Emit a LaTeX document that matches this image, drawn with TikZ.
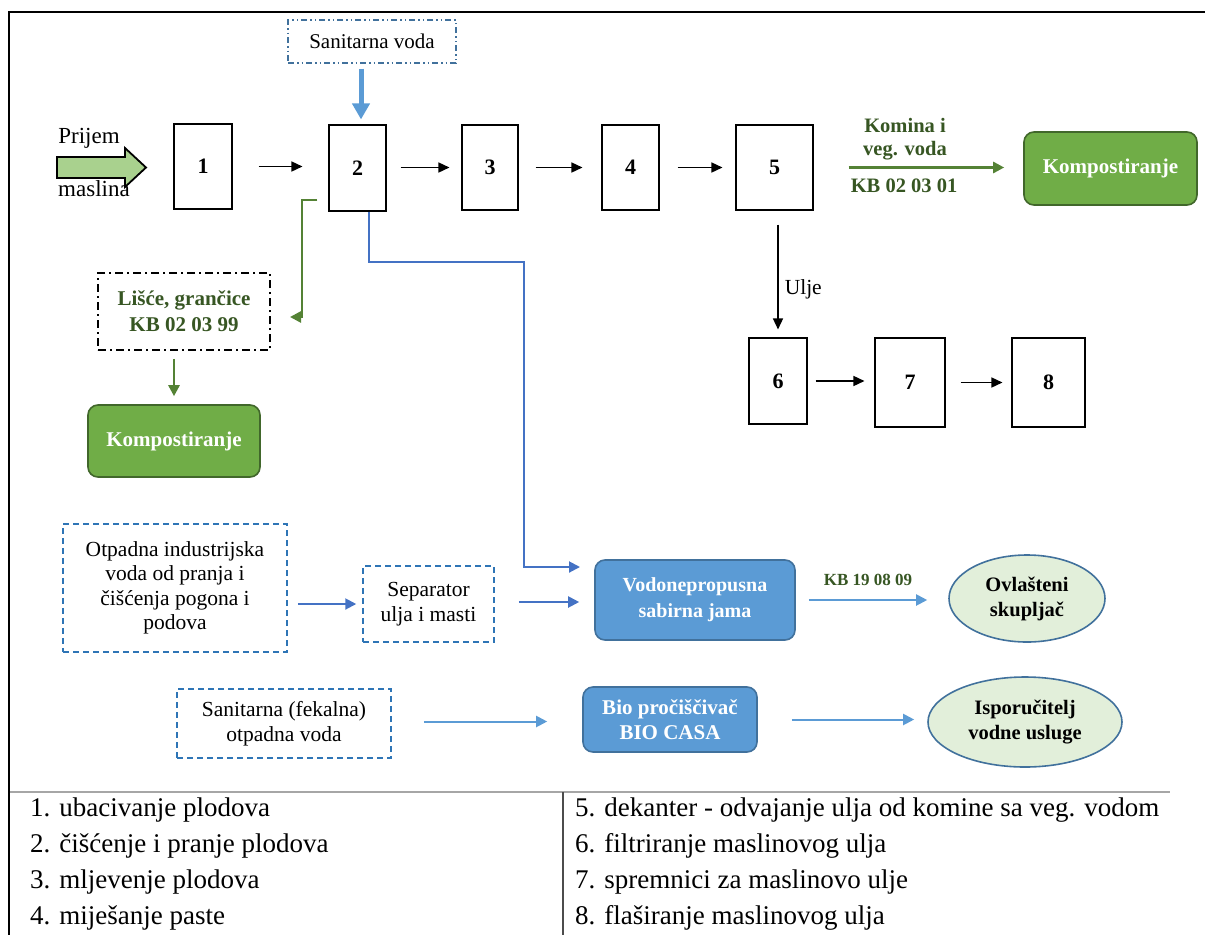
\documentclass[tikz,border=0pt]{standalone}
\usepackage{fontspec}
\setmainfont{Liberation Serif}
\usetikzlibrary{arrows.meta,shapes.geometric}
\definecolor{gfill}{HTML}{70AD47}
\definecolor{gborder}{HTML}{41672B}
\definecolor{gtext}{HTML}{375623}
\definecolor{garrow}{HTML}{548235}
\definecolor{bfill}{HTML}{5B9BD5}
\definecolor{bborder}{HTML}{41719C}
\definecolor{bline}{HTML}{4472C4}
\definecolor{blight}{HTML}{5B9BD5}
\definecolor{efill}{HTML}{E2EFDA}
\definecolor{dblue}{HTML}{2E75B6}
\definecolor{legray}{HTML}{A6A6A6}
\definecolor{pfill}{HTML}{A9D18E}
\tikzset{
  numbox/.style={draw=black, line width=1.1pt, fill=white, inner sep=0pt,
    font=\fontsize{22}{26}\selectfont\bfseries},
  karr/.style={-{Triangle[length=11pt,width=10pt]}, line width=1.5pt},
  gbox/.style={draw=gborder, fill=gfill, rounded corners=10pt, line width=1.6pt,
    text=white, inner sep=0pt, font=\fontsize{21}{25}\selectfont\bfseries},
  bbox/.style={draw=bborder, fill=bfill, rounded corners=10pt, line width=1.6pt,
    text=white, inner sep=0pt, align=center, font=\fontsize{20}{26}\selectfont\bfseries},
  ell/.style={ellipse, draw=bborder, fill=efill, line width=1.6pt, inner sep=0pt,
    align=center, font=\fontsize{20.5}{25}\selectfont\bfseries},
  dbox/.style={draw=dblue, dash pattern=on 6pt off 4pt, line width=1.5pt, inner sep=0pt,
    align=center, font=\fontsize{21.5}{24.5}\selectfont},
  garr/.style={draw=garrow, -{Triangle[length=11pt,width=11pt]}, line width=2.6pt},
  barr/.style={draw=blight, -{Triangle[length=11pt,width=11pt]}, line width=2pt},
  bdarr/.style={draw=bline, -{Triangle[length=11pt,width=11pt]}, line width=2pt},
  leg/.style={anchor=west, inner sep=0pt, font=\fontsize{27}{30}\selectfont},
}
\begin{document}
\begin{tikzpicture}[x=1pt,y=-1pt]
\useasboundingbox (0,0) rectangle (1205,935);
% frame
\draw[line width=2.2pt] (1205,12) -- (9,12) -- (9,935);
% Prijem arrow
\draw[line width=1.8pt, fill=pfill] (57,157) -- (125,157) -- (125,148) -- (146,167.5) -- (125,187) -- (125,178) -- (57,178) -- cycle;
\node[font=\fontsize{23}{26}\selectfont, inner sep=0pt] (prijem) at (89,138) {Prijem};
\node[font=\fontsize{23}{26}\selectfont, inner sep=0pt] (maslina) at (94,189) {maslina};
% process boxes
\node[numbox, minimum width=58, minimum height=85] (b1) at (203,166.5) {1};
\node[numbox, minimum width=57, minimum height=86] (b2) at (357.5,168) {2};
\node[numbox, minimum width=56, minimum height=85] (b3) at (490,167.5) {3};
\node[numbox, minimum width=57, minimum height=85] (b4) at (630.5,167.5) {4};
\node[numbox, minimum width=77, minimum height=85] (b5) at (774.5,167.5) {5};
\node[numbox, minimum width=58, minimum height=86] (b6) at (778,381) {6};
\node[numbox, minimum width=70, minimum height=89] (b7) at (910,382.5) {7};
\node[numbox, minimum width=73, minimum height=89] (b8) at (1048.5,382.5) {8};
\draw[karr, shorten <=26pt, shorten >=26pt] (b1.east) -- (b1.east -| b2.west);
\draw[karr, shorten <=14pt, shorten >=12pt] (b2.east |- b3.west) -- (b3.west);
\draw[karr, shorten <=17pt, shorten >=19pt] (b3.east) -- (b4.west);
\draw[karr, shorten <=18pt, shorten >=13pt] (b4.east) -- (b5.west);
\draw[karr, shorten <=8pt, shorten >=10pt] (b6.east) -- (b6.east -| b7.west);
\draw[karr, shorten <=15pt, shorten >=9pt] (b7.east) -- (b8.west);
\draw[karr, shorten <=14pt, shorten >=8pt] (b5.south -| b6.north) -- node[right=6pt, font=\fontsize{21.5}{24}\selectfont, inner sep=0pt, pos=0.62] (ulje) {Ulje} (b6.north);
% sanitarna voda
\node[draw=bborder, dash pattern=on 6pt off 3pt on 1.5pt off 3pt on 1.5pt off 3pt, line width=1.2pt,
  minimum width=168, minimum height=43, inner sep=0pt, font=\fontsize{21}{24}\selectfont] (sv) at (372,41.5) {Sanitarna voda};
\draw[draw=blight, line width=5pt, -{Triangle[length=16pt,width=17pt]}, shorten <=5pt, shorten >=5pt] ([xshift=3.5pt]sv.south -| b2.north) -- ([xshift=3.5pt]b2.north);
% komina
\node[gbox, minimum width=173, minimum height=73] (kr) at (1110.5,168.5) {Kompostiranje};
\draw[garr, shorten <=35pt, shorten >=19pt] (b5.east) -- (b5.east -| kr.west);
\node[text=gtext, align=center, font=\fontsize{20.5}{22.5}\selectfont\bfseries, inner sep=0pt] (komina) at (905,139) {Komina i\\veg. voda};
\node[text=gtext, font=\fontsize{20.5}{24}\selectfont\bfseries, inner sep=0pt] (kb1) at (904,186) {KB 02 03 01};
% lisce
\node[draw=black, dash pattern=on 8pt off 4pt on 2pt off 4pt, line width=1.5pt, minimum width=172, minimum height=77,
  inner sep=0pt, align=center, text=gtext, font=\fontsize{21}{26}\selectfont\bfseries] (lis) at (184,311.5) {Lišće, grančice\\KB 02 03 99};
\node[gbox, minimum width=172, minimum height=72] (kl) at (174,441) {Kompostiranje};
\coordinate (g1) at (302,200);
\coordinate (g2) at (290,317);
\draw[garr] ([xshift=-11pt,yshift=-32pt]b2.west) -- (g1) |- (g2);
\draw[garr, shorten <=8pt, shorten >=8pt] (lis.south -| kl.north) -- (kl.north);
% water
\node[dbox, minimum width=224, minimum height=128] (otp) at (175,588) {Otpadna industrijska\\voda od pranja i\\čišćenja pogona i\\podova};
\node[dbox, minimum width=131, minimum height=76] (sep) at (428.5,604) {Separator\\ulja i masti};
\node[bbox, minimum width=200, minimum height=80] (vod) at (695,600) {Vodonepropusna\\sabirna jama};
\node[ell, minimum width=156, minimum height=87] (ovl) at (1027,598.5) {Ovlašteni\\skupljač};
\node[dbox, minimum width=214, minimum height=69] (sf) at (284,723.5) {Sanitarna (fekalna)\\otpadna voda};
\node[bbox, minimum width=174, minimum height=65, font=\fontsize{21}{25}\selectfont\bfseries] (bio) at (670,719.5) {Bio pročiščivač\\BIO CASA};
\node[ell, minimum width=194, minimum height=90] (isp) at (1025,722) {Isporučitelj\\vodne usluge};
\coordinate (w1) at (524,262);
\coordinate (w2) at (580,567);
\draw[bdarr] ([xshift=11.5pt]b2.south) |- (w1) |- (w2);
\draw[bdarr, shorten <=10pt, shorten >=6pt] (otp.east |- sep.west) -- (sep.west);
\draw[bdarr, shorten <=24pt, shorten >=15pt] ([yshift=2pt]sep.east) -- ([yshift=2pt]sep.east -| vod.west);
\draw[barr, shorten <=13pt, shorten >=21pt] (vod.east) -- (vod.east -| ovl.west);
\node[text=gtext, font=\fontsize{17}{20}\selectfont\bfseries, inner sep=0pt] (kb2) at (868,580) {KB 19 08 09};
\draw[barr, shorten <=32pt, shorten >=35pt] ([yshift=2pt]sf.east) -- ([yshift=2pt]sf.east -| bio.west);
\draw[barr, shorten <=34pt, shorten >=13pt] (bio.east) -- (bio.east -| isp.west);
% legend
\draw[legray, line width=1.6pt] (10,792) -- (1170,792);
\draw[black!70, line width=1.4pt] (563,792) -- (563,935);
\node[leg] (l1) at (30,810) {1. ubacivanje plodova};
\node[leg] (l2) at (30,846) {2. čišćenje i pranje plodova};
\node[leg] (l3) at (30,882) {3. mljevenje plodova};
\node[leg] (l4) at (30,918) {4. miješanje paste};
\node[leg] (l5) at (575,810) {5. dekanter - odvajanje ulja od komine sa veg. vodom};
\node[leg] (l6) at (575,846) {6. filtriranje maslinovog ulja};
\node[leg] (l7) at (575,882) {7. spremnici za maslinovo ulje};
\node[leg] (l8) at (575,918) {8. flaširanje maslinovog ulja};
\end{tikzpicture}
\end{document}
